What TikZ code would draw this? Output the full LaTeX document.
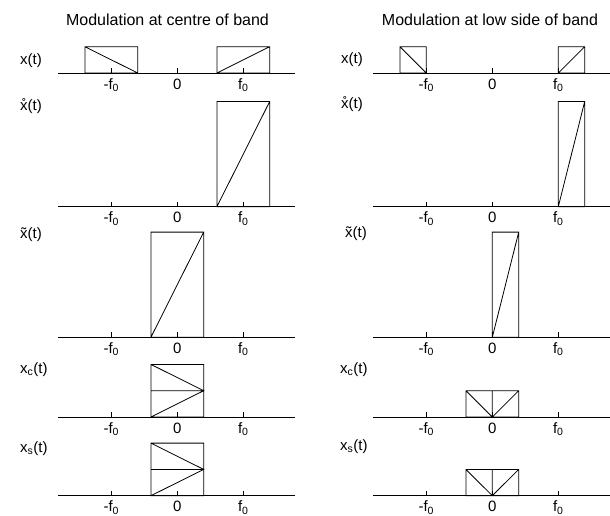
\documentclass[tikz,border=0pt]{standalone}
\usepackage{fontspec}
\setmainfont{Liberation Sans}
\usepackage{tikz}
\usetikzlibrary{positioning}
\tikzset{
  axisline/.style={line width=1pt},
  bandline/.style={line width=0.8pt},
  siglabel/.style={anchor=base west,inner sep=0pt,font=\fontsize{15}{18}\selectfont},
  ticklabel/.style={anchor=base,inner sep=0pt,font=\fontsize{15}{18}\selectfont},
  paneltitle/.style={anchor=base,inner sep=0pt,font=\fontsize{16}{19}\selectfont}
}
% frequency axis with ticks at -f0, 0, f0 (unit = f0)
\newcommand{\freqaxis}[1]{%
  \draw[axisline] (-1.81,0) coordinate (#1-l) -- (1.78,0) coordinate (#1-r);
  \foreach \t/\lab/\nm in {-1/{-f\textsubscript{0}}/m, 0/0/z, 1/{f\textsubscript{0}}/p} {
    \draw[axisline] (\t,0) -- (\t,0.19);
    \node[ticklabel] (#1-\nm) at (\t,-0.61) {\lab};
  }%
}

\begin{document}
\begin{tikzpicture}[x=1pt,y=-1pt]
  \useasboundingbox (0,0) rectangle (610,515);

  % titles
  \node[paneltitle] (tcentre) at (167.5,25) {Modulation at centre of band};
  \node[paneltitle] (tlow) at (490,25) {Modulation at low side of band};

  % signal labels
  \node[siglabel] (lx)   at (20,64)  {x(t)};
  \node[siglabel] (lxr)  at (20,110) {\r{x}(t)};
  \node[siglabel] (lxt)  at (20,238) {\~{x}(t)};
  \node[siglabel] (lxc)  at (20,373) {x\textsubscript{c}(t)};
  \node[siglabel] (lxs)  at (20,452) {x\textsubscript{s}(t)};
  \node[siglabel] (rx)   at (341,63)  {x(t)};
  \node[siglabel] (rxr)  at (341,108) {\r{x}(t)};
  \node[siglabel] (rxt)  at (345,237) {\~{x}(t)};
  \node[siglabel] (rxc)  at (340,373) {x\textsubscript{c}(t)};
  \node[siglabel] (rxs)  at (340,450) {x\textsubscript{s}(t)};

  % ---- centre of band ----
  \begin{scope}[shift={(177.3,73)},x=66pt,y=26.3pt]
    \draw[bandline] (-1.4,0) rectangle (-0.6,1) (-1.4,1) -- (-0.6,0);
    \draw[bandline] (0.6,0) rectangle (1.4,1) (0.6,0) -- (1.4,1);
    \freqaxis{ax1}
  \end{scope}
  \begin{scope}[shift={(177.3,206.7)},x=66pt,y=26.3pt]
    \draw[bandline] (0.6,0) rectangle (1.4,4) (0.6,0) -- (1.4,4);
    \freqaxis{ax2}
  \end{scope}
  \begin{scope}[shift={(177.3,337.3)},x=66pt,y=26.3pt]
    \draw[bandline] (-0.4,0) rectangle (0.4,4) (-0.4,0) -- (0.4,4);
    \freqaxis{ax3}
  \end{scope}
  \begin{scope}[shift={(177.3,417)},x=66pt,y=26.3pt]
    \draw[bandline] (-0.4,0) rectangle (0.4,2) (-0.4,1) -- (0.4,1)
      (-0.4,2) -- (0.4,1) -- (-0.4,0);
    \freqaxis{ax4}
  \end{scope}
  \begin{scope}[shift={(177.3,495.7)},x=66pt,y=26.3pt]
    \draw[bandline] (-0.4,0) rectangle (0.4,2) (-0.4,1) -- (0.4,1)
      (-0.4,2) -- (0.4,1) -- (-0.4,0);
    \freqaxis{ax5}
  \end{scope}

  % ---- low side of band ----
  \begin{scope}[shift={(492.3,73)},x=66pt,y=26.3pt]
    \draw[bandline] (-1.4,0) rectangle (-1,1) (-1.4,1) -- (-1,0);
    \draw[bandline] (1,0) rectangle (1.4,1) (1,0) -- (1.4,1);
    \freqaxis{bx1}
  \end{scope}
  \begin{scope}[shift={(492.3,206.7)},x=66pt,y=26.3pt]
    \draw[bandline] (1,0) rectangle (1.4,4) (1,0) -- (1.4,4);
    \freqaxis{bx2}
  \end{scope}
  \begin{scope}[shift={(492.3,337.3)},x=66pt,y=26.3pt]
    \draw[bandline] (0,0) rectangle (0.4,4) (0,0) -- (0.4,4);
    \freqaxis{bx3}
  \end{scope}
  \begin{scope}[shift={(492.3,417)},x=66pt,y=26.3pt]
    \draw[bandline] (-0.4,0) rectangle (0.4,1) (0,0) -- (0,1)
      (-0.4,1) -- (0,0) -- (0.4,1);
    \freqaxis{bx4}
  \end{scope}
  \begin{scope}[shift={(492.3,495.7)},x=66pt,y=26.3pt]
    \draw[bandline] (-0.4,0) rectangle (0.4,1) (0,0) -- (0,1)
      (-0.4,1) -- (0,0) -- (0.4,1);
    \freqaxis{bx5}
  \end{scope}
\end{tikzpicture}
\end{document}
